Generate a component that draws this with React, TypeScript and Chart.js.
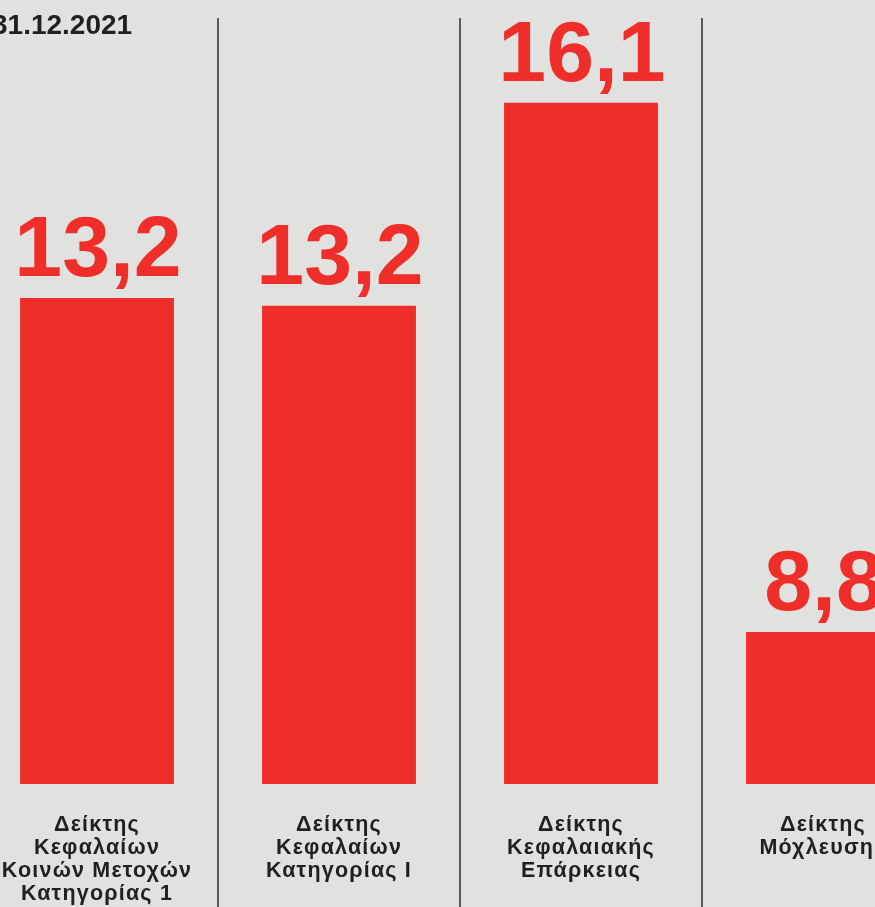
import React, { useEffect, useRef } from "react";
import { Chart, registerables } from "chart.js";

Chart.register(...registerables);

// Category labels (multi-line)
const categories: string[][] = [
  ["Δείκτης", "Κεφαλαίων", "Κοινών Μετοχών", "Κατηγορίας 1"],
  ["Δείκτης", "Κεφαλαίων", "Κατηγορίας Ι"],
  ["Δείκτης", "Κεφαλαιακής", "Επάρκειας"],
  ["Δείκτης", "Μόχλευσης"],
];
// Values printed above the bars (%)
const values: number[] = [13.2, 13.2, 16.1, 8.8];
// Drawn bar heights (infographic, not to scale), 0–100 units
const barHeights: number[] = [62.0, 61.0, 86.9, 19.4];
const dateLabel = "31.12.2021";

const BG = "#e1e1df";
const RED = "#ef2e2a";
const INK = "#231f20";
const FONT = "'Liberation Sans', Arial, Helvetica, sans-serif";

export default function App() {
  const ref = useRef<HTMLCanvasElement | null>(null);

  useEffect(() => {
    if (!ref.current) return;
    const overlay = {
      id: "overlay",
      beforeDraw(chart: any) {
        (chart.ctx as any).letterSpacing = "1.2px";
      },
      beforeDatasetsDraw(chart: any) {
        (chart.ctx as any).letterSpacing = "0px";
      },
      afterDraw(chart: any) {
        const ctx = chart.ctx;
        const xs = chart.scales.x;
        ctx.save();
        ctx.letterSpacing = "0px";
        // dividers between categories
        ctx.strokeStyle = INK;
        ctx.lineWidth = 1.4;
        for (let i = 1; i < categories.length; i++) {
          const x = (xs.getPixelForValue(i - 1) + xs.getPixelForValue(i)) / 2;
          ctx.beginPath();
          ctx.moveTo(x, 18);
          ctx.lineTo(x, chart.height);
          ctx.stroke();
        }
        // value labels
        const meta = chart.getDatasetMeta(0);
        ctx.fillStyle = RED;
        ctx.font = `bold 86px ${FONT}`;
        ctx.textAlign = "center";
        ctx.textBaseline = "alphabetic";
        meta.data.forEach((bar: any, i: number) => {
          const txt = values[i].toFixed(1).replace(".", ",");
          ctx.fillText(txt, bar.x + 1, bar.y - 22);
        });
        // date label
        ctx.fillStyle = INK;
        ctx.font = `bold 28px ${FONT}`;
        ctx.textAlign = "left";
        ctx.fillText(dateLabel, 16, 34);
        ctx.restore();
      },
    };

    const chart = new Chart(ref.current, {
      type: "bar",
      data: {
        labels: categories,
        datasets: [
          {
            data: barHeights,
            backgroundColor: RED,
            borderWidth: 0,
            barPercentage: 1,
            categoryPercentage: 0.636,
          },
        ],
      },
      options: {
        responsive: false,
        animation: false,
        devicePixelRatio: 1,
        layout: { padding: 0 },
        plugins: {
          legend: { display: false },
          tooltip: { enabled: false },
          title: { display: false },
        },
        scales: {
          x: {
            grid: { display: false, drawTicks: false },
            border: { display: false },
            ticks: {
              autoSkip: false,
              maxRotation: 0,
              minRotation: 0,
              padding: 29,
              color: INK,
              font: { family: FONT, size: 21.5, weight: "bold", lineHeight: 1.084 },
            },
            afterFit: (scale: any) => {
              scale.height = 123;
            },
          },
          y: {
            display: false,
            min: 0,
            max: 100,
          },
        },
      },
      plugins: [overlay],
    });
    return () => chart.destroy();
  }, []);

  return (
    <div
      style={{
        position: "fixed",
        left: 0,
        top: 0,
        width: 875,
        height: 907,
        overflow: "hidden",
        background: BG,
      }}
    >
      <canvas
        ref={ref}
        width={968}
        height={907}
        style={{ position: "absolute", left: -24, top: 0, width: 968, height: 907 }}
      />
    </div>
  );
}
